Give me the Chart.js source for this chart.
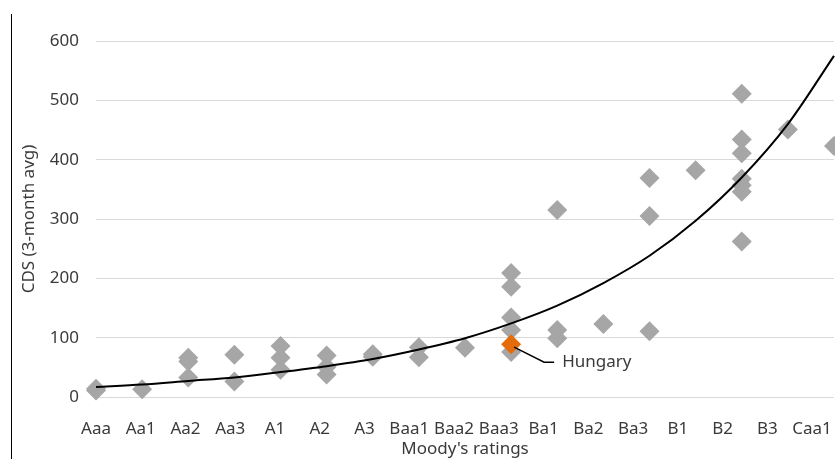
<!DOCTYPE html>
<html>
<head>
<meta charset="utf-8">
<script src="https://cdn.jsdelivr.net/npm/chart.js@4.4.1/dist/chart.umd.min.js"></script>
<style>
  body { margin: 0; background: #fff; }
  #wrap { position: relative; width: 835px; height: 459px; }
  #frame { position: absolute; left: 11px; top: 14px; width: 1px; height: 445px; background: #000; }
</style>
</head>
<body>
<div id="wrap">
  <canvas id="cds"></canvas>
  <div id="frame"></div>
</div>
<script>
const ratings = ['Aaa','Aa1','Aa2','Aa3','A1','A2','A3','Baa1','Baa2','Baa3','Ba1','Ba2','Ba3','B1','B2','B3','Caa1']

// one entry per country: rating and CDS level
const countryRatings = ['Aaa','Aaa','Aa1','Aa2','Aa2','Aa2','Aa3','Aa3','A1','A1','A1','A2','A2','A2','A3','A3',
  'Baa1','Baa1','Baa2','Baa3','Baa3','Baa3','Baa3','Baa3','Ba1','Ba1','Ba1','Ba2','Ba3','Ba3','Ba3','B1',
  'B2','B2','B2','B2','B2','B2','B2','B3','Caa1']
const countryCds = [11,14,13,66,60,33,71,26,86,66,46,70,51,38,72,68,
  84,67,83,209,186,134,113,76,315,113,99,123,369,305,111,382,
  511,434,411,368,357,346,262,451,423]

const hungaryRating = 'Baa3'
const hungaryCds = 89

// exponential trend line read at each rating step
const trendCds = [17,21,27,33,42,52,64,80,99,124,154,192,238,297,370,460,575]

const yTicks = [0,100,200,300,400,500,600]

const fontFam = '"Noto Sans", "DejaVu Sans", sans-serif'
const textCol = '#3a3a3a'

let greyPts = countryRatings.map((r, i) => ({x: ratings.indexOf(r), y: countryCds[i]}))
let trendPts = trendCds.map((v, i) => ({x: i, y: v}))

// callout for Hungary
const hungaryLabel = {
  id: 'hungaryLabel',
  afterDatasetsDraw(chart) {
    let ctx = chart.ctx
    let px = chart.scales.x.getPixelForValue(ratings.indexOf(hungaryRating))
    let py = chart.scales.y.getPixelForValue(hungaryCds)
    ctx.save()
    ctx.strokeStyle = '#000'
    ctx.lineWidth = 1.5
    ctx.beginPath()
    ctx.moveTo(px + 3, py + 3)
    ctx.lineTo(px + 33, py + 18)
    ctx.lineTo(px + 43, py + 18)
    ctx.stroke()
    ctx.fillStyle = textCol
    ctx.font = '17px ' + fontFam
    ctx.textBaseline = 'middle'
    ctx.fillText('Hungary', px + 51, py + 18)
    ctx.restore()
  }
}

let chart = new Chart(document.getElementById('cds').getContext('2d'), {
  type: 'scatter',
  data: {
    datasets: [
      {
        label: 'Trend',
        data: trendPts,
        showLine: true,
        borderColor: '#000',
        borderWidth: 2,
        pointRadius: 0,
        cubicInterpolationMode: 'monotone',
        clip: false
      },
      {
        label: 'Hungary',
        data: [{x: ratings.indexOf(hungaryRating), y: hungaryCds}],
        pointStyle: 'rectRot',
        pointRadius: 10,
        backgroundColor: '#e46c0a',
        borderWidth: 0,
        clip: false
      },
      {
        label: 'Countries',
        data: greyPts,
        pointStyle: 'rectRot',
        pointRadius: 10,
        backgroundColor: '#a6a6a6',
        borderWidth: 0,
        clip: false
      }
    ]
  },
  options: {
    responsive: true,
    maintainAspectRatio: false,
    animation: false,
    layout: { autoPadding: false, padding: { left: 0, right: 1, top: 41, bottom: 0 } },
    plugins: { legend: { display: false }, tooltip: { enabled: false } },
    scales: {
      x: {
        type: 'linear',
        min: 0,
        max: ratings.length - 1,
        display: false
      },
      // rating labels sit on their own slightly tighter axis
      xl: {
        type: 'linear',
        position: 'bottom',
        min: 0,
        max: 16.49,
        grid: { display: false },
        border: { display: false },
        ticks: {
          stepSize: 1,
          includeBounds: false,
          autoSkip: false,
          maxRotation: 0,
          padding: 14,
          color: textCol,
          font: { family: fontFam, size: 17 },
          callback: v => ratings[v] ?? ''
        },
        title: {
          display: true,
          text: "Moody's ratings",
          color: textCol,
          font: { family: fontFam, size: 17 },
          padding: { top: 0, bottom: 0 }
        },
        afterFit: s => { s.height = 62; s.paddingLeft = 0; s.paddingRight = 0 }
      },
      y: {
        min: 0,
        max: 600,
        afterBuildTicks: s => { s.ticks = yTicks.map(v => ({value: v})) },
        grid: { color: '#d9d9d9', lineWidth: 1, drawTicks: false },
        border: { display: false },
        ticks: {
          padding: 17,
          color: textCol,
          font: { family: fontFam, size: 17 }
        },
        title: {
          display: true,
          text: 'CDS (3-month avg)',
          color: textCol,
          font: { family: fontFam, size: 17 },
          padding: { top: 19, bottom: 0 }
        },
        afterFit: s => { s.width = 96 }
      }
    }
  },
  plugins: [hungaryLabel]
});
</script>
</body>
</html>
